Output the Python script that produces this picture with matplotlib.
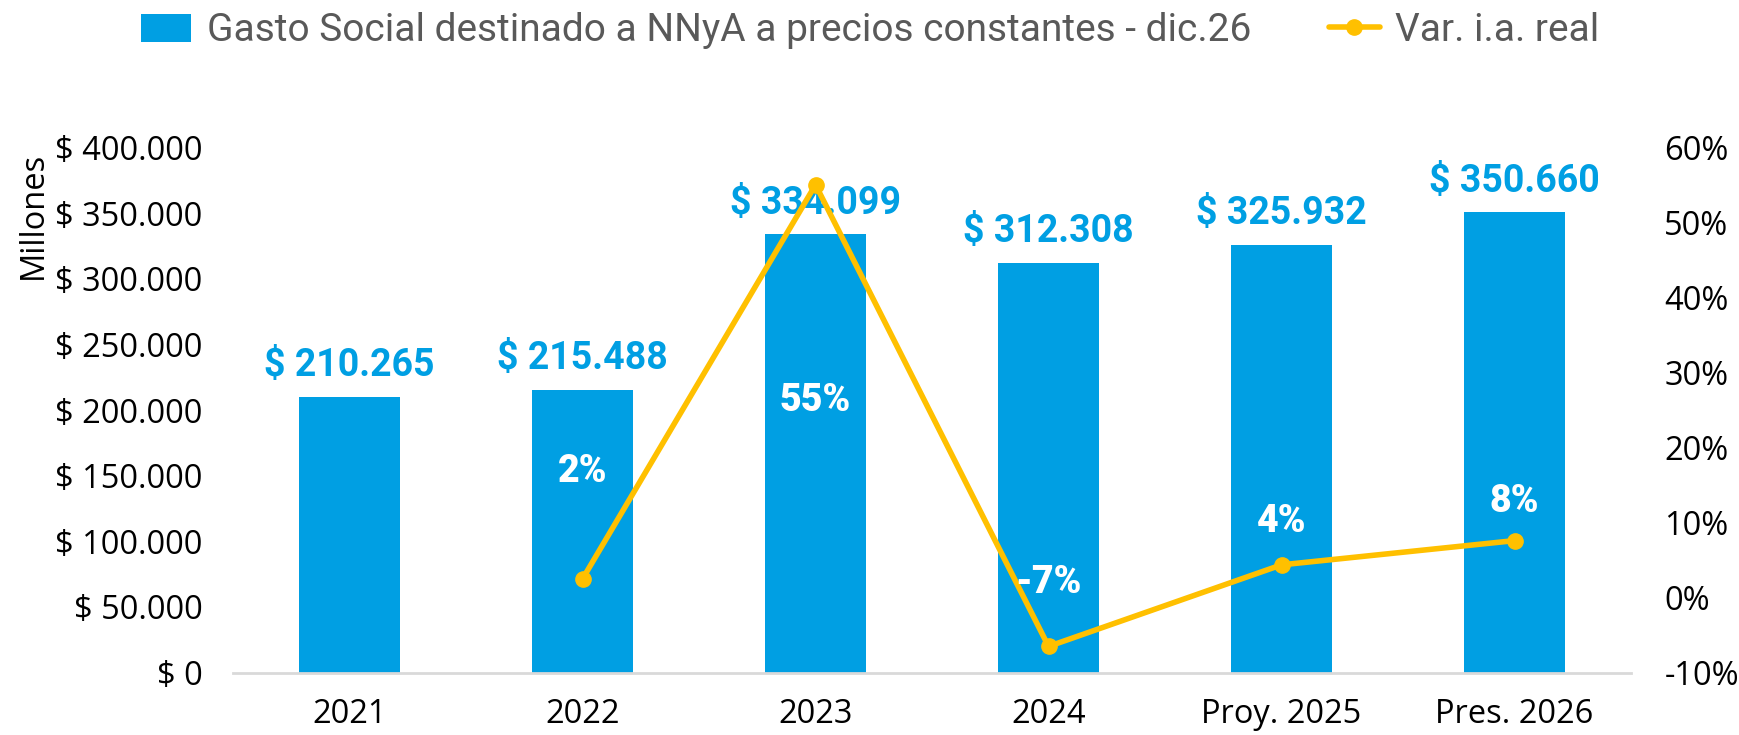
import numpy as np
import matplotlib.pyplot as plt
from matplotlib.ticker import FuncFormatter

# data
categorias = ['2021', '2022', '2023', '2024', 'Proy. 2025', 'Pres. 2026']
gasto = [210265, 215488, 334099, 312308, 325932, 350660]   # millones, precios constantes dic.26
var_ia = [np.nan, 0.0248, 0.5504, -0.0652, 0.0436, 0.0759]
var_txt = ['', '2%', '55%', '-7%', '4%', '8%']
var_off = [0, 77, -155, 46, 31, 28]   # label offset (points) from the line point

azul = '#009FE3'
oro = '#FFC000'
tick_font = 'Open Sans'
lab_font = 'Roboto'

fig = plt.figure(figsize=(17.4, 7.35), dpi=100)
ax = fig.add_axes([0.1339, 0.085, 0.8035, 0.7142])
ax2 = ax.twinx()

x = np.arange(len(categorias))
bars = ax.bar(x, gasto, width=0.43, color=azul, label='Gasto Social destinado a NNyA a precios constantes - dic.26')
ax2.plot(x, var_ia, color=oro, lw=4, marker='o', ms=11, label='Var. i.a. real', solid_capstyle='round')

ax.set_xlim(-0.5, 5.5)
ax.set_ylim(0, 400000)
ax.set_yticks(np.arange(0, 400001, 50000))
ax.yaxis.set_major_formatter(FuncFormatter(lambda v, p: '$ ' + f'{v:,.0f}'.replace(',', '.')))
ax2.set_ylim(-0.1, 0.6)
ax2.set_yticks(np.arange(-0.1, 0.61, 0.1))
ax2.yaxis.set_major_formatter(FuncFormatter(lambda v, p: f'{v*100:.0f}%'))

ax.set_xticks(x)
ax.set_xticklabels(categorias)

for a in (ax, ax2):
    for s in a.spines.values():
        s.set_visible(False)
    a.tick_params(length=0, labelsize=23.5)
    for t in a.get_xticklabels() + a.get_yticklabels():
        t.set_fontfamily(tick_font)
ax.spines['bottom'].set_visible(True)
ax.spines['bottom'].set_color('#D9D9D9')
ax.spines['bottom'].set_linewidth(2)
ax.tick_params(axis='y', pad=22)
ax.tick_params(axis='x', pad=18)
ax2.tick_params(axis='y', pad=24)

ax.set_ylabel('Millones', fontsize=23.5, fontfamily=tick_font)
ax.yaxis.set_label_coords(-0.131, 0.87)

# value labels above bars
for i, v in enumerate(gasto):
    ax.annotate('$ ' + f'{v:,.0f}'.replace(',', '.'), (x[i], v), xytext=(0, 9),
                textcoords='offset points', ha='center', va='bottom',
                fontsize=27, fontweight='bold', color=azul, fontfamily=lab_font, zorder=1)

# variation labels
for i in range(1, len(x)):
    ax2.annotate(var_txt[i], (x[i], var_ia[i]), xytext=(0, var_off[i]),
                 textcoords='offset points', ha='center', va='center',
                 fontsize=27, fontweight='heavy', color='white', fontfamily=lab_font)

h1, l1 = ax.get_legend_handles_labels()
h2, l2 = ax2.get_legend_handles_labels()
leg = fig.legend(h1 + h2, l1 + l2, loc='center', bbox_to_anchor=(0.5, 0.958), ncol=2,
                 frameon=False, handlelength=1.3, handleheight=0.75,
                 columnspacing=2.0, handletextpad=0.4, prop={'family': lab_font, 'size': 28})
for t in leg.get_texts():
    t.set_color('#595959')

fig.savefig('out.png', dpi=100)
